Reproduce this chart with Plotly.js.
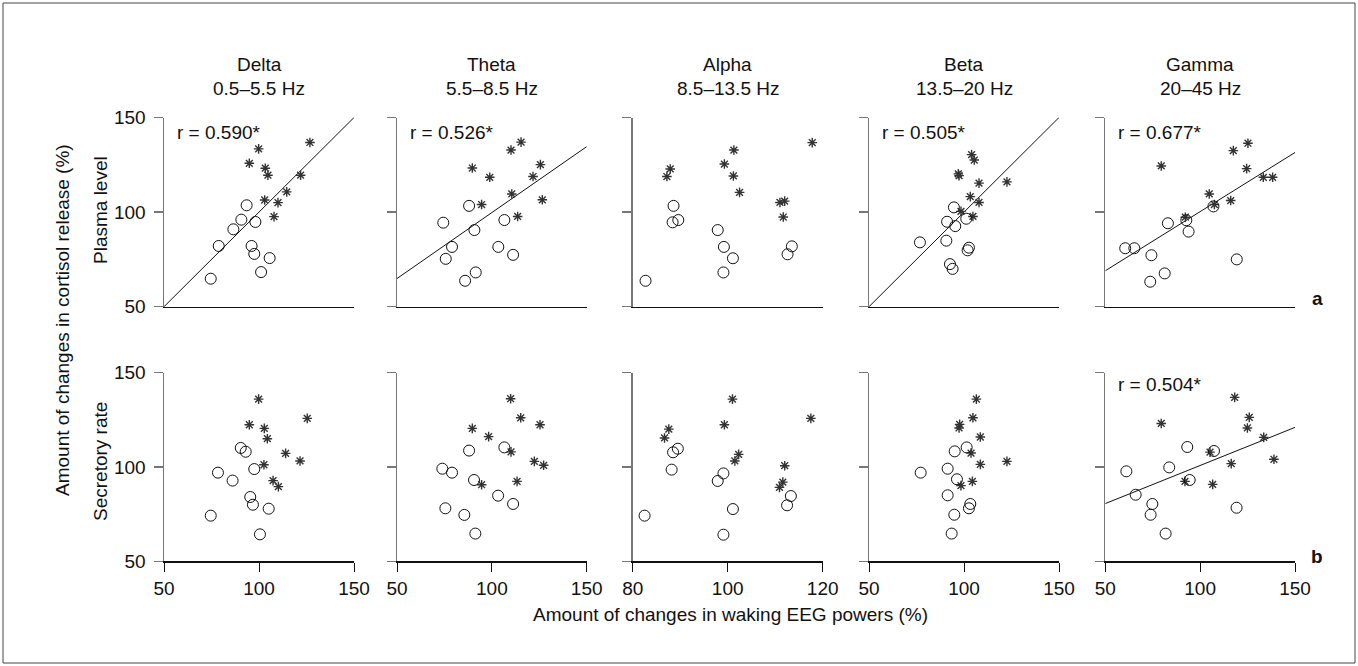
<!DOCTYPE html>
<html>
<head>
<meta charset="utf-8">
<script src="https://cdn.plot.ly/plotly-3.0.1.min.js"></script>
<style>html,body{margin:0;padding:0;background:#fff;}#chart{width:1358px;height:666px;}</style>
</head>
<body>
<div id="chart"></div>
<script>
// ---------- DATA ----------
const bandNames = ['Delta', 'Theta', 'Alpha', 'Beta', 'Gamma'];
const bandRanges = ['0.5–5.5 Hz', '5.5–8.5 Hz', '8.5–13.5 Hz', '13.5–20 Hz', '20–45 Hz'];
const rowNames = ['Plasma level', 'Secretory rate'];
const panelLetters = ['a', 'b'];
const xTicksDefault = [50, 100, 150];
const xTicksAlpha = [80, 100, 120];
const yTicks = [50, 100, 150];

// Plasma level (row a): open circles and asterisks
const plasmaDeltaOpenX = [74.6, 78.8, 86.5, 90.7, 93.5, 98.1, 96.1, 97.5, 105.6, 101.1];
const plasmaDeltaOpenY = [64.8, 82.1, 90.9, 96.0, 103.6, 94.8, 82.1, 77.9, 75.7, 68.3];
const plasmaDeltaStarX = [126.8, 99.8, 94.9, 103.3, 104.7, 121.9, 114.6, 110.0, 103.0, 107.9];
const plasmaDeltaStarY = [136.8, 133.4, 125.8, 123.2, 119.5, 119.5, 110.7, 105.0, 106.4, 97.6];

const plasmaThetaOpenX = [74.4, 88.0, 90.8, 79.0, 75.7, 91.5, 85.9, 106.6, 103.4, 111.2];
const plasmaThetaOpenY = [94.4, 103.3, 90.5, 81.6, 75.3, 68.1, 63.7, 95.8, 81.6, 77.4];
const plasmaThetaStarX = [110.1, 115.4, 89.7, 98.9, 125.6, 121.7, 110.5, 94.6, 126.6, 113.6];
const plasmaThetaStarY = [132.8, 137.0, 123.3, 118.4, 125.1, 118.8, 109.6, 104.0, 106.5, 97.7];

const plasmaAlphaOpenX = [82.7, 88.6, 88.4, 89.6, 97.9, 99.2, 101.1, 99.1, 113.5, 112.6];
const plasmaAlphaOpenY = [63.7, 103.3, 94.6, 95.8, 90.5, 81.6, 75.6, 68.1, 81.9, 77.7];
const plasmaAlphaStarX = [87.9, 87.2, 101.3, 99.3, 101.2, 102.5, 111.0, 112.0, 111.7, 117.8];
const plasmaAlphaStarY = [122.8, 118.8, 132.8, 125.4, 119.1, 110.4, 105.1, 105.8, 97.4, 136.7];

const plasmaBetaOpenX = [76.8, 94.7, 91.1, 95.4, 101.2, 90.7, 101.9, 102.6, 92.6, 94.0];
const plasmaBetaOpenY = [84.0, 102.5, 94.9, 92.6, 96.5, 84.9, 79.8, 81.2, 72.5, 70.0];
const plasmaBetaStarX = [104.0, 105.4, 97.0, 97.4, 107.9, 122.6, 98.4, 103.3, 107.9, 104.7];
const plasmaBetaStarY = [130.4, 127.5, 120.2, 119.3, 115.3, 116.0, 100.4, 108.2, 105.1, 97.7];

const plasmaGammaOpenX = [60.5, 65.3, 74.3, 73.7, 81.3, 83.0, 92.7, 93.9, 107.0, 119.3];
const plasmaGammaOpenY = [80.9, 80.9, 77.2, 63.2, 67.6, 94.1, 95.7, 89.7, 103.0, 75.0];
const plasmaGammaStarX = [79.5, 117.5, 125.2, 124.5, 133.3, 138.2, 104.8, 116.1, 92.2, 107.5];
const plasmaGammaStarY = [124.4, 132.5, 136.4, 123.0, 118.4, 118.4, 109.6, 106.1, 97.3, 104.0];

// Secretory rate (row b)
const secretDeltaOpenX = [74.6, 78.4, 86.1, 90.4, 93.0, 97.5, 95.4, 96.8, 105.1, 100.5];
const secretDeltaOpenY = [74.2, 97.0, 92.8, 110.1, 108.1, 98.9, 84.1, 80.0, 77.9, 64.3];
const secretDeltaStarX = [99.8, 125.4, 94.9, 102.8, 104.4, 114.0, 121.6, 102.6, 107.4, 110.2];
const secretDeltaStarY = [136.0, 125.8, 122.4, 120.5, 115.0, 107.2, 103.2, 101.2, 92.8, 89.6];

const secretThetaOpenX = [73.9, 79.0, 88.0, 90.6, 106.6, 103.3, 111.2, 75.5, 85.5, 91.3];
const secretThetaOpenY = [99.1, 97.0, 108.7, 93.1, 110.4, 84.8, 80.4, 78.1, 74.6, 64.7];
const secretThetaStarX = [109.9, 115.2, 125.4, 89.7, 98.3, 110.1, 122.4, 127.3, 94.6, 113.3];
const secretThetaStarY = [136.2, 126.1, 122.4, 120.5, 116.1, 108.0, 103.0, 100.9, 90.6, 92.4];

const secretAlphaOpenX = [82.5, 88.2, 88.5, 89.5, 97.9, 99.1, 101.1, 99.1, 113.3, 112.5];
const secretAlphaOpenY = [74.2, 98.6, 107.8, 109.7, 92.6, 96.6, 77.7, 64.1, 84.6, 79.7];
const secretAlphaStarX = [87.6, 86.7, 101.0, 99.3, 102.3, 101.5, 112.0, 111.6, 110.9, 117.5];
const secretAlphaStarY = [120.1, 115.4, 136.0, 122.4, 106.7, 103.2, 100.7, 92.0, 89.2, 125.8];

const secretBetaOpenX = [77.2, 91.4, 95.1, 96.3, 101.4, 91.4, 103.3, 102.6, 94.9, 93.5];
const secretBetaOpenY = [97.0, 99.1, 108.3, 93.5, 110.4, 85.0, 80.4, 78.1, 74.7, 64.7];
const secretBetaStarX = [106.5, 104.7, 97.7, 97.4, 108.6, 103.7, 108.6, 122.6, 104.4, 98.4];
const secretBetaStarY = [136.0, 126.1, 122.6, 120.7, 115.9, 107.4, 101.4, 103.0, 92.4, 90.1];

const secretGammaOpenX = [61.1, 66.0, 74.8, 73.9, 81.8, 83.7, 93.2, 94.5, 107.3, 119.2];
const secretGammaOpenY = [97.7, 85.3, 80.4, 74.7, 64.7, 99.8, 110.6, 93.1, 108.5, 78.4];
const secretGammaStarX = [79.5, 118.2, 125.9, 124.9, 133.5, 138.9, 116.4, 106.6, 92.0, 105.2];
const secretGammaStarY = [123.1, 136.9, 126.3, 120.7, 115.7, 104.1, 101.8, 90.8, 92.4, 107.9];

// Regression fits (null = no line drawn) and r labels
const plasmaFitSlope = [1.0, 0.697, null, 1.0, 0.625];
const plasmaFitIntercept = [0, 30.05, null, 0, 37.75];
const plasmaR = ['r = 0.590*', 'r = 0.526*', '', 'r = 0.505*', 'r = 0.677*'];
const secretFitSlope = [null, null, null, null, 0.404];
const secretFitIntercept = [null, null, null, null, 60.4];
const secretR = ['', '', '', '', 'r = 0.504*'];

// ---------- LAYOUT HELPERS ----------
const W = 1358, H = 666;
const FONT = 'Liberation Sans, Arial, sans-serif';
const FS = 19;
const colL = [164, 397, 632.7, 869, 1105.3];
const colR = [354, 586.7, 822.7, 1059, 1295];
const rowT = [117.5, 372.7];
const rowB = [306.7, 561.3];

const rows = [
  {open: [[plasmaDeltaOpenX, plasmaDeltaOpenY], [plasmaThetaOpenX, plasmaThetaOpenY], [plasmaAlphaOpenX, plasmaAlphaOpenY], [plasmaBetaOpenX, plasmaBetaOpenY], [plasmaGammaOpenX, plasmaGammaOpenY]],
   star: [[plasmaDeltaStarX, plasmaDeltaStarY], [plasmaThetaStarX, plasmaThetaStarY], [plasmaAlphaStarX, plasmaAlphaStarY], [plasmaBetaStarX, plasmaBetaStarY], [plasmaGammaStarX, plasmaGammaStarY]],
   slope: plasmaFitSlope, icpt: plasmaFitIntercept, r: plasmaR},
  {open: [[secretDeltaOpenX, secretDeltaOpenY], [secretThetaOpenX, secretThetaOpenY], [secretAlphaOpenX, secretAlphaOpenY], [secretBetaOpenX, secretBetaOpenY], [secretGammaOpenX, secretGammaOpenY]],
   star: [[secretDeltaStarX, secretDeltaStarY], [secretThetaStarX, secretThetaStarY], [secretAlphaStarX, secretAlphaStarY], [secretBetaStarX, secretBetaStarY], [secretGammaStarX, secretGammaStarY]],
   slope: secretFitSlope, icpt: secretFitIntercept, r: secretR}
];

const traces = [];
const layout = {
  width: W, height: H,
  margin: {l: 0, r: 0, t: 0, b: 0},
  paper_bgcolor: '#fff', plot_bgcolor: 'rgba(0,0,0,0)',
  showlegend: false,
  font: {family: FONT, size: FS, color: '#111'},
  annotations: [],
  shapes: [{type: 'rect', xref: 'paper', yref: 'paper', x0: 3 / W, x1: 1355 / W, y0: 1 - 663 / H, y1: 1 - 3 / H,
            line: {color: '#444', width: 1}}]
};

for (let r = 0; r < 2; r++) {
  for (let c = 0; c < 5; c++) {
    const idx = r * 5 + c + 1;
    const xa = 'x' + (idx === 1 ? '' : idx), ya = 'y' + (idx === 1 ? '' : idx);
    const xTicks = c === 2 ? xTicksAlpha : xTicksDefault;
    const xRange = [xTicks[0], xTicks[2]];
    const row = rows[r];
    const [ox, oy] = row.open[c];
    const [sx, sy] = row.star[c];
    if (row.slope[c] !== null) {
      traces.push({type: 'scatter', mode: 'lines', xaxis: xa, yaxis: ya,
        x: xRange, y: xRange.map(v => row.icpt[c] + row.slope[c] * v),
        line: {color: '#111', width: 1}, hoverinfo: 'skip'});
    }
    traces.push({type: 'scatter', mode: 'markers', xaxis: xa, yaxis: ya, x: sx, y: sy,
      marker: {symbol: 'asterisk-open', size: 8, color: '#333', line: {color: '#333', width: 1.4}}, cliponaxis: false});
    traces.push({type: 'scatter', mode: 'markers', xaxis: xa, yaxis: ya, x: ox, y: oy,
      marker: {symbol: 'circle-open', size: 11, color: '#111', line: {color: '#111', width: 1}}, cliponaxis: false});

    const xKey = 'xaxis' + (idx === 1 ? '' : idx), yKey = 'yaxis' + (idx === 1 ? '' : idx);
    layout[xKey] = {
      domain: [colL[c] / W, colR[c] / W], anchor: ya, range: xRange,
      tickvals: xTicks, showticklabels: r === 1, ticks: r === 1 ? 'outside' : '',
      ticklen: 9, tickcolor: '#111', tickwidth: 1,
      showline: true, linecolor: '#111', linewidth: 1.5,
      showgrid: false, zeroline: false, fixedrange: true,
      tickfont: {family: FONT, size: FS, color: '#111'}
    };
    layout[yKey] = {
      domain: [1 - rowB[r] / H, 1 - rowT[r] / H], anchor: xa, range: [50, 150],
      tickvals: yTicks, showticklabels: c === 0, ticks: 'outside',
      ticklen: 9, tickcolor: '#777', tickwidth: 1.3,
      showline: true, linecolor: '#777', linewidth: 1.5,
      showgrid: false, zeroline: false, fixedrange: true,
      ticklabelstandoff: 4,
      tickfont: {family: FONT, size: FS, color: '#111'}
    };
    if (row.r[c]) {
      layout.annotations.push({xref: xa + ' domain', yref: ya + ' domain', x: 0.058, y: r === 0 ? 0.923 : 0.935,
        xanchor: 'left', yanchor: 'middle', showarrow: false, text: row.r[c],
        font: {family: FONT, size: FS, color: '#111'}});
    }
  }
}

// Column titles
for (let c = 0; c < 5; c++) {
  const cx = (colL[c] + colR[c]) / 2 / W;
  layout.annotations.push({xref: 'paper', yref: 'paper', x: cx, y: 1 - 65 / H, xanchor: 'center', yanchor: 'middle',
    showarrow: false, text: bandNames[c], font: {family: FONT, size: FS, color: '#111'}});
  layout.annotations.push({xref: 'paper', yref: 'paper', x: cx, y: 1 - 88 / H, xanchor: 'center', yanchor: 'middle',
    showarrow: false, text: bandRanges[c], font: {family: FONT, size: FS, color: '#111'}});
}
// Row titles
const rowTitleY = [210, 462];
for (let r = 0; r < 2; r++) {
  layout.annotations.push({xref: 'paper', yref: 'paper', x: 100 / W, y: 1 - rowTitleY[r] / H, xanchor: 'center', yanchor: 'middle',
    textangle: -90, showarrow: false, text: rowNames[r], font: {family: FONT, size: FS, color: '#111'}});
  layout.annotations.push({xref: 'paper', yref: 'paper', x: 1317 / W, y: 1 - (r === 0 ? 299 : 556) / H, xanchor: 'center', yanchor: 'middle',
    showarrow: false, text: '<b>' + panelLetters[r] + '</b>', font: {family: FONT, size: FS, color: '#111'}});
}
// Overall axis titles
layout.annotations.push({xref: 'paper', yref: 'paper', x: 62 / W, y: 1 - 320 / H, xanchor: 'center', yanchor: 'middle',
  textangle: -90, showarrow: false, text: 'Amount of changes in cortisol release (%)', font: {family: FONT, size: FS, color: '#111'}});
layout.annotations.push({xref: 'paper', yref: 'paper', x: 730 / W, y: 1 - 614 / H, xanchor: 'center', yanchor: 'middle',
  showarrow: false, text: 'Amount of changes in waking EEG powers (%)', font: {family: FONT, size: FS, color: '#111'}});

Plotly.newPlot('chart', traces, layout, {displayModeBar: false, staticPlot: true});
</script>
</body>
</html>
